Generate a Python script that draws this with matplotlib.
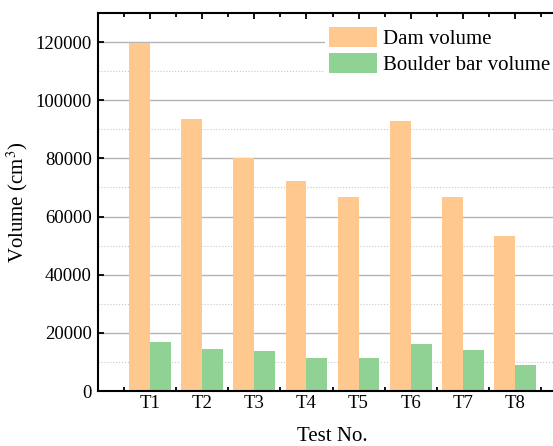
import numpy as np
import matplotlib.pyplot as plt
from matplotlib.ticker import MultipleLocator

tests = ['T1', 'T2', 'T3', 'T4', 'T5', 'T6', 'T7', 'T8']
dam_volume = [119800, 93500, 80200, 72200, 66600, 92700, 66600, 53400]
boulder_volume = [16700, 14400, 13800, 11400, 11400, 16200, 14100, 9000]

plt.rcParams['font.family'] = ['Liberation Serif', 'DejaVu Serif']
plt.rcParams['mathtext.fontset'] = 'stix'
tick_fs = 13.5
label_fs = 15

fig = plt.figure(figsize=(5.53, 4.46), dpi=100)
# right edge of the axes runs past the figure, as in the original
ax = fig.add_axes([98 / 553, 55 / 446, 469 / 553, 378 / 446])

x = np.arange(1, len(tests) + 1)
w = 0.4
ax.bar(x - w / 2, dam_volume, w, color='#fec88e', label='Dam volume', zorder=2)
ax.bar(x + w / 2, boulder_volume, w, color='#90d294', label='Boulder bar volume', zorder=2)

ax.set_xlim(0, 9)
ax.set_ylim(0, 130000)
ax.set_xticks(x)
ax.set_xticklabels(tests)
ax.xaxis.set_minor_locator(MultipleLocator(0.5))
ax.yaxis.set_major_locator(MultipleLocator(20000))
ax.yaxis.set_minor_locator(MultipleLocator(10000))

ax.grid(axis='y', which='major', color='#b4b4b4', linewidth=1.0, zorder=0)
ax.grid(axis='y', which='minor', color='#c8c8c8', linewidth=0.8, linestyle=':', zorder=0)
ax.set_axisbelow(True)

ax.tick_params(axis='both', which='both', direction='in', labelsize=tick_fs, width=1.3)
ax.tick_params(axis='x', which='both', top=True, pad=3)
ax.tick_params(axis='y', pad=4.5)
ax.tick_params(which='major', length=4)
ax.tick_params(which='minor', length=3)
ax.tick_params(axis='y', which='minor', length=0)
for s in ax.spines.values():
    s.set_linewidth(1.5)

ax.set_xlabel('Test No.', fontsize=label_fs, labelpad=11)
ax.set_ylabel('Volume (cm$^3$)', fontsize=label_fs, labelpad=4)

leg = ax.legend(loc='upper left', bbox_to_anchor=(325 / 553, 1 - 23 / 446),
                bbox_transform=fig.transFigure, fontsize=label_fs, frameon=True,
                facecolor='white', edgecolor='none', framealpha=1, fancybox=False,
                handlelength=2.31, handleheight=1.1, handletextpad=0.28,
                labelspacing=0.19, borderpad=0.18, borderaxespad=0)

fig.savefig('out.png', dpi=100)
